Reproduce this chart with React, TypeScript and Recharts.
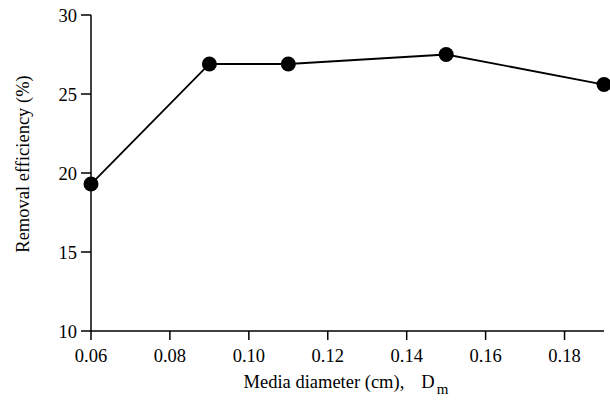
import React from 'react';
import { LineChart, Line, XAxis, YAxis, Label } from 'recharts';

const diameters = [0.06, 0.09, 0.11, 0.15, 0.19];
const efficiency = [19.3, 26.9, 26.9, 27.5, 25.6];
const xTicks = [0.06, 0.08, 0.1, 0.12, 0.14, 0.16, 0.18];
const yTicks = [10, 15, 20, 25, 30];

const FONT = '"Liberation Serif", "Times New Roman", serif';

const data = diameters.map((d, i) => ({ d, eff: efficiency[i] }));

const tickStyle = { fontFamily: FONT, fontSize: 18.5, fill: '#000' };

const XTitle = (props: any) => {
    const vb = props.viewBox;
    const cx = vb.x + vb.width / 2;
    return (
        <text x={cx - 104} y={388} textAnchor="start" fontFamily={FONT} fontSize={18.5} fill="#000">
            Media diameter (cm),
            <tspan dx={17}>D</tspan>
            <tspan fontSize={15} dx={2} dy={6}>m</tspan>
        </text>
    );
};

const YTitle = (props: any) => {
    const vb = props.viewBox;
    const cy = vb.y + vb.height / 2 - 9;
    return (
        <text x={29} y={cy} textAnchor="middle" transform={`rotate(-90, 29, ${cy})`} fontFamily={FONT} fontSize={18.5} fill="#000">
            Removal efficiency (%)
        </text>
    );
};

const App: React.FC = () => {
    return (
        <div style={{ position: 'absolute', left: 0, top: 0, background: '#fff' }}>
            <LineChart width={610} height={400} data={data} margin={{ top: 15, right: 6, bottom: 0, left: 36 }}>
                <XAxis
                    xAxisId="b"
                    dataKey="d"
                    type="number"
                    domain={[0.06, 0.19]}
                    ticks={xTicks}
                    tickFormatter={(v: number) => v.toFixed(2)}
                    tick={tickStyle}
                    tickSize={9}
                    tickMargin={9}
                    height={69}
                    axisLine={{ stroke: '#000', strokeWidth: 1.5 }}
                    tickLine={{ stroke: '#000', strokeWidth: 1.5 }}
                    interval={0}
                >
                    <Label content={<XTitle />} />
                </XAxis>
                <XAxis
                    xAxisId="t"
                    dataKey="d"
                    type="number"
                    domain={[0.06, 0.19]}
                    orientation="top"
                    height={0}
                    tick={false}
                    tickLine={false}
                    axisLine={{ stroke: '#000', strokeWidth: 1.5 }}
                />
                <YAxis
                    yAxisId="l"
                    type="number"
                    domain={[10, 30]}
                    ticks={yTicks}
                    tick={tickStyle}
                    tickSize={10}
                    tickMargin={4}
                    width={55}
                    axisLine={{ stroke: '#000', strokeWidth: 1.5 }}
                    tickLine={{ stroke: '#000', strokeWidth: 1.5 }}
                    interval={0}
                >
                    <Label content={<YTitle />} />
                </YAxis>
                <YAxis
                    yAxisId="r"
                    type="number"
                    domain={[10, 30]}
                    orientation="right"
                    width={0}
                    tick={false}
                    tickLine={false}
                    axisLine={{ stroke: '#000', strokeWidth: 1.5 }}
                />
                <Line
                    xAxisId="b"
                    yAxisId="l"
                    dataKey="eff"
                    stroke="#000"
                    strokeWidth={1.8}
                    dot={{ r: 7.5, fill: '#000', stroke: '#000', strokeWidth: 0 }}
                    activeDot={false}
                    isAnimationActive={false}
                />
            </LineChart>
        </div>
    );
};

export default App;
